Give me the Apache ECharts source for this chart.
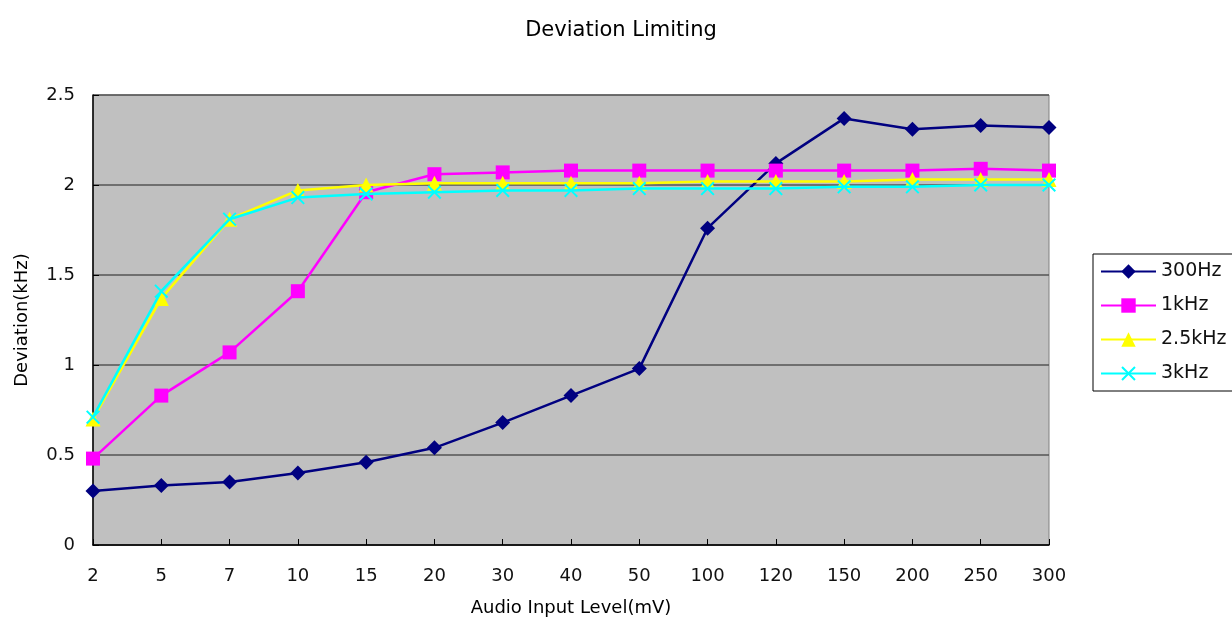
<!DOCTYPE html>
<html><head><meta charset="utf-8">
<script src="https://cdn.jsdelivr.net/npm/echarts@6/dist/echarts.min.js"></script>
<style>html,body{margin:0;padding:0;background:#fff}#c{width:1232px;height:619px}</style>
</head><body><div id="c"></div>
<script>
const categories = ['2','5','7','10','15','20','30','40','50','100','120','150','200','250','300'];
const s300Hz = [0.30,0.33,0.35,0.40,0.46,0.54,0.68,0.83,0.98,1.76,2.12,2.37,2.31,2.33,2.32];
const s1kHz  = [0.48,0.83,1.07,1.41,1.96,2.06,2.07,2.08,2.08,2.08,2.08,2.08,2.08,2.09,2.08];
const s25kHz = [0.70,1.37,1.81,1.97,2.00,2.01,2.01,2.01,2.01,2.02,2.02,2.02,2.03,2.03,2.03];
const s3kHz  = [0.71,1.41,1.81,1.93,1.95,1.96,1.97,1.97,1.98,1.98,1.98,1.99,1.99,2.00,2.00];
const yTicks = [0,0.5,1,1.5,2,2.5];

const FONT = '"DejaVu Sans",sans-serif';
const crossPath = 'path://M0,1L1,0L5,4L9,0L10,1L6,5L10,9L9,10L5,6L1,10L0,9L4,5Z';

function mk(name, data, color, symbol, size, z) {
  return {
    name, type: 'line', data, z,
    symbol, symbolSize: size,
    lineStyle: { color, width: 2.5 },
    itemStyle: { color, borderWidth: 0 },
    emphasis: { disabled: true },
    animation: false
  };
}

const chart = echarts.init(document.getElementById('c'), null, { renderer: 'canvas' });
chart.setOption({
  animation: false,
  textStyle: { fontFamily: FONT },
  title: {
    text: 'Deviation Limiting', left: 616, top: 15, textAlign: 'center',
    textStyle: { fontFamily: FONT, fontSize: 21, fontWeight: 'normal', color: '#000' }
  },
  grid: { left: 93, right: 183, top: 95, bottom: 74, outerBoundsMode: 'none', containLabel: false,
    show: true, backgroundColor: '#C0C0C0', borderColor: '#808080', borderWidth: 1 },
  legend: {
    orient: 'vertical', left: 1093, top: 254,
    padding: [8, 10, 8, 7], itemGap: 15,
    borderColor: '#000', borderWidth: 1, backgroundColor: '#fff',
    itemWidth: 55, itemHeight: 18,
    textStyle: { fontFamily: FONT, fontSize: 19, color: '#111', lineHeight: 18, padding: [0, 0, 0, 0] },
    data: ['300Hz','1kHz','2.5kHz','3kHz']
  },
  xAxis: {
    type: 'category', data: categories, boundaryGap: false,
    name: 'Audio Input Level(mV)', nameLocation: 'middle', nameGap: 54,
    nameTextStyle: { fontFamily: FONT, fontSize: 18, color: '#000' },
    axisLine: { lineStyle: { color: '#000', width: 1.5 } },
    axisTick: { inside: true, length: 6, lineStyle: { color: '#000' } },
    axisLabel: { fontFamily: FONT, fontSize: 18, color: '#111', margin: 22 },
    splitLine: { show: false }
  },
  yAxis: {
    type: 'value', min: 0, max: 2.5, interval: 0.5,
    name: 'Deviation(kHz)', nameLocation: 'middle', nameGap: 62, nameRotate: 90,
    nameTextStyle: { fontFamily: FONT, fontSize: 18, color: '#000' },
    axisLine: { show: true, lineStyle: { color: '#000', width: 1.5 } },
    axisTick: { show: true, inside: true, length: 6, lineStyle: { color: '#000' } },
    axisLabel: { fontFamily: FONT, fontSize: 18, color: '#111', margin: 18,
      formatter: v => (yTicks.includes(v) ? String(v) : '') },
    splitLine: { show: true, lineStyle: { color: '#555', width: 1.5 } }
  },
  series: [
    mk('300Hz', s300Hz, '#000080', 'diamond', 15, 2),
    mk('1kHz', s1kHz, '#FF00FF', 'rect', 14, 3),
    mk('2.5kHz', s25kHz, '#FFFF00', 'triangle', 15, 4),
    mk('3kHz', s3kHz, '#00FFFF', crossPath, 14, 5)
  ]
});
</script></body></html>
